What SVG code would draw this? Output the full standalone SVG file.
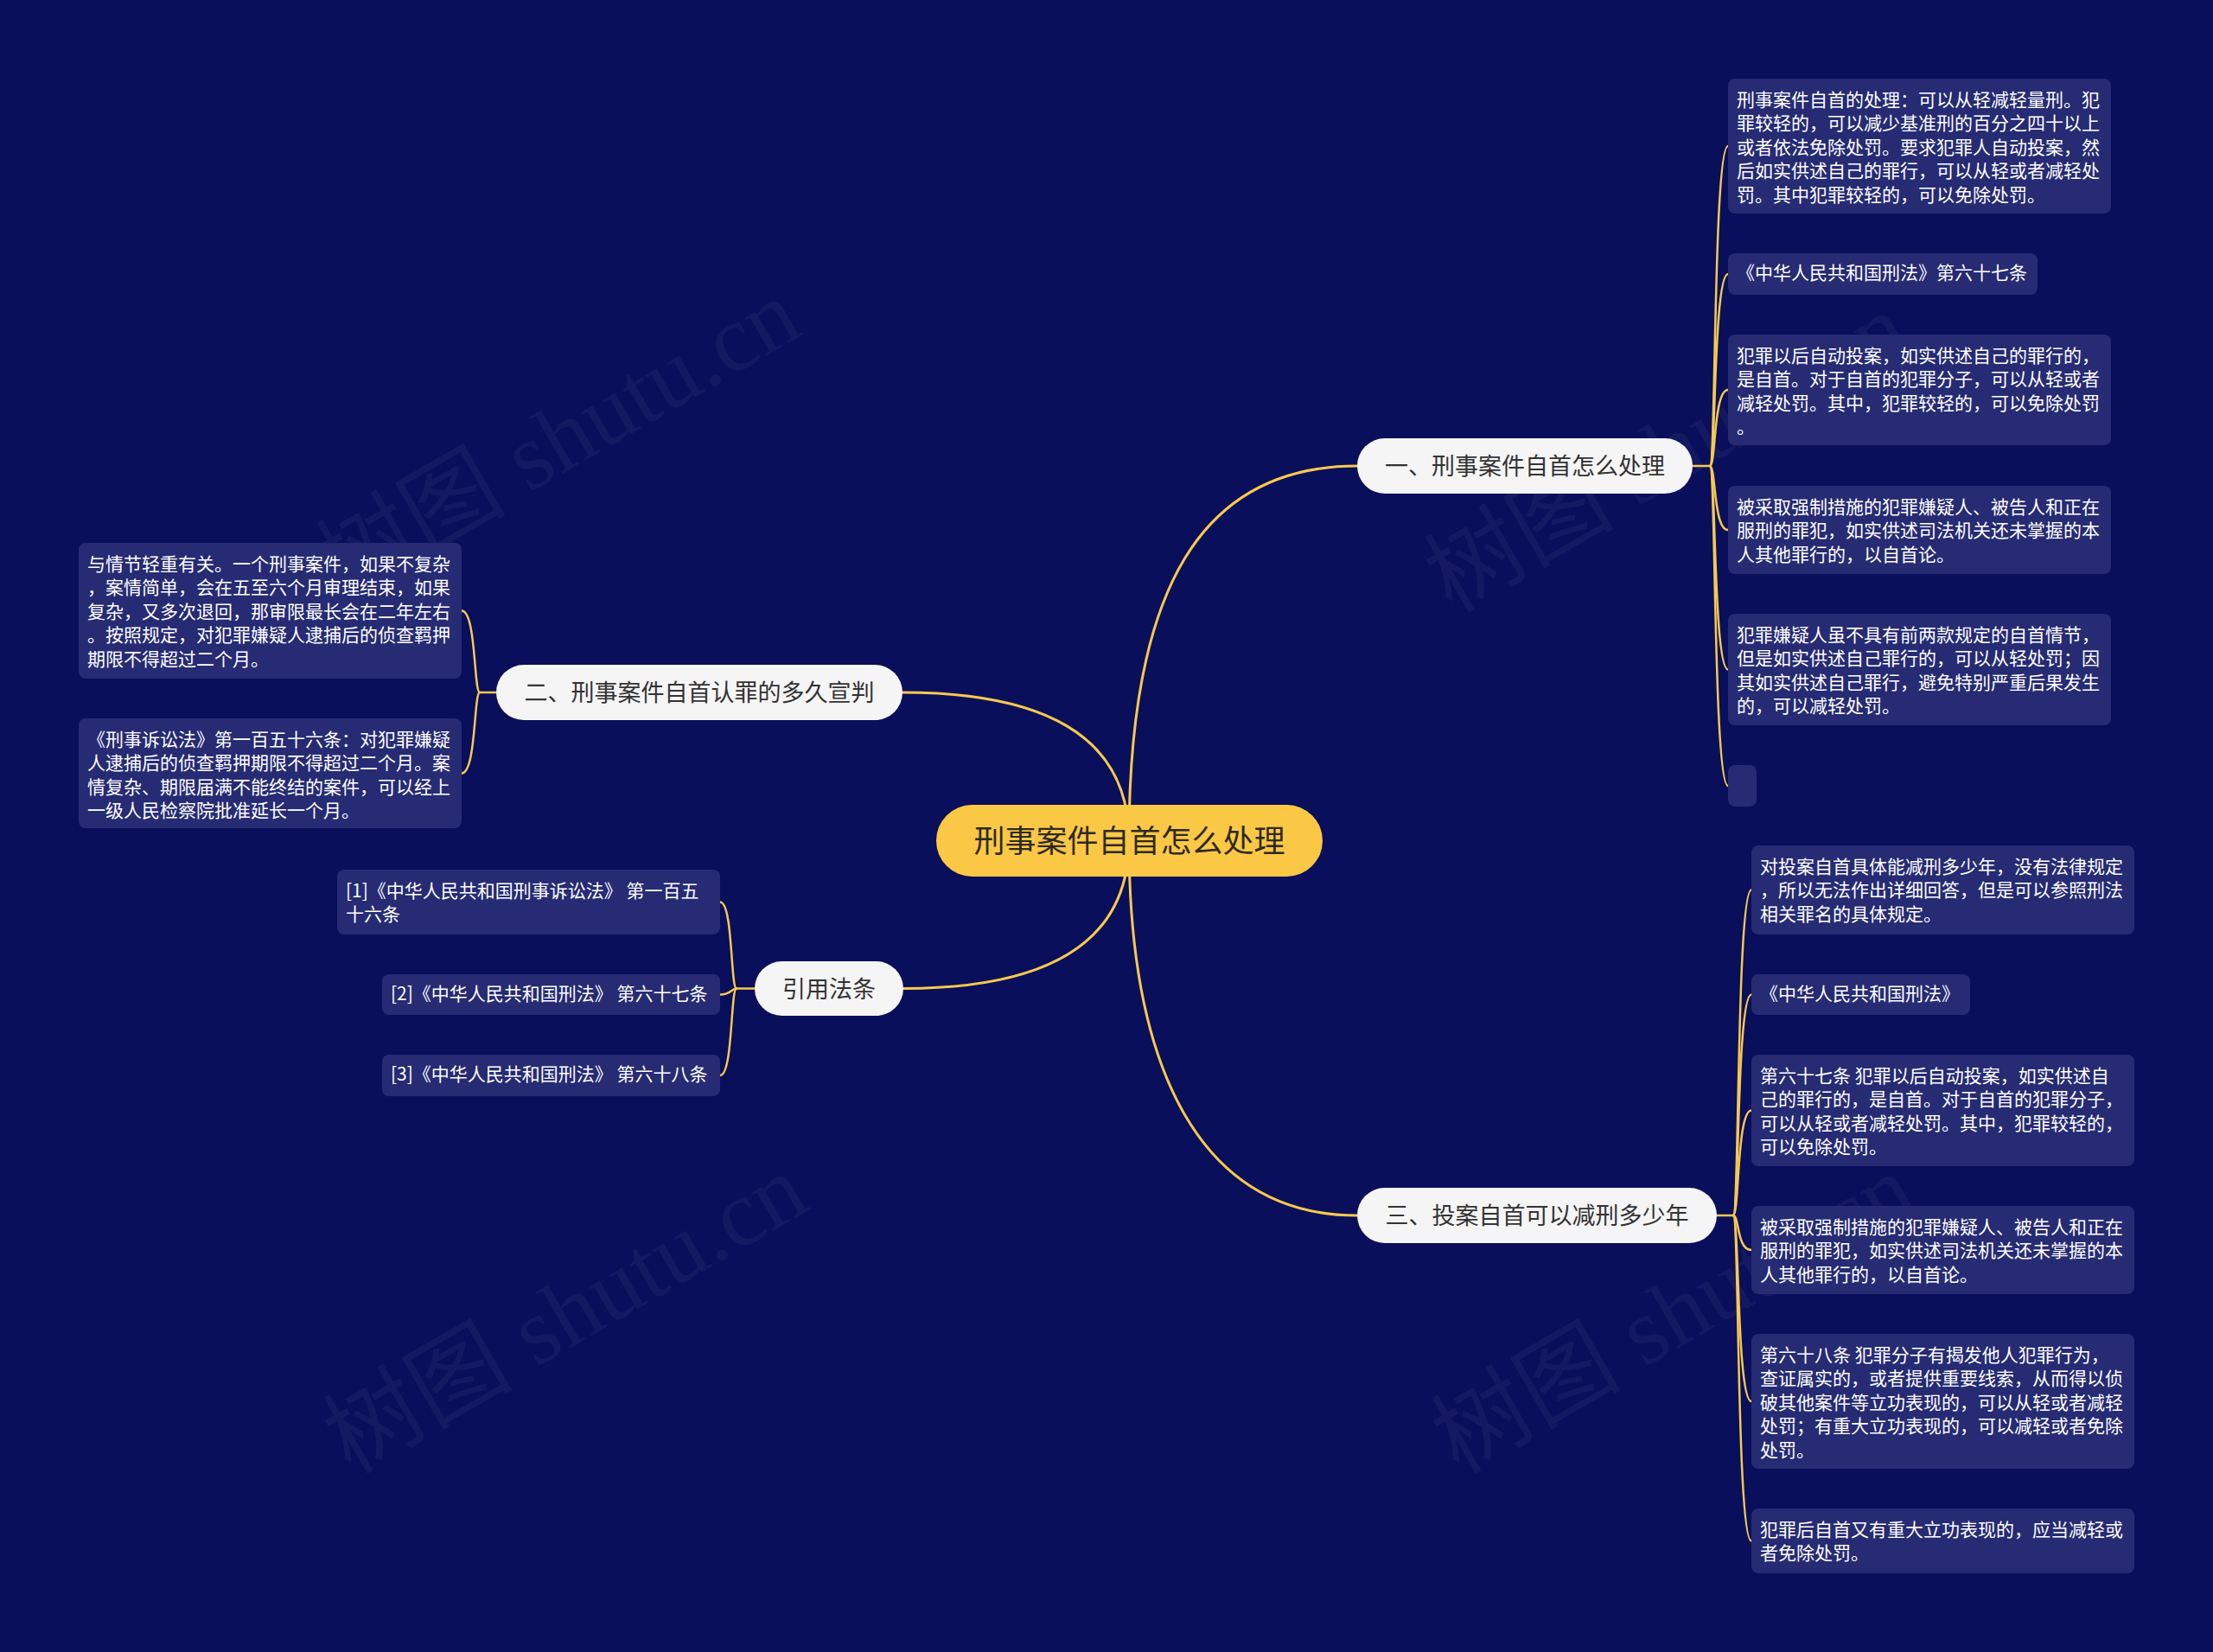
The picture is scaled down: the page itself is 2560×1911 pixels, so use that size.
<svg xmlns="http://www.w3.org/2000/svg" width="2560" height="1911" viewBox="0 0 2560 1911">
<style>
.wm{font-family:"Liberation Serif","Noto Sans CJK SC",serif;font-size:110px;fill:#ffffff;fill-opacity:0.045}
.c{fill:none;stroke:#f7c94f;stroke-width:3;stroke-linecap:round}
.cl{fill:none;stroke:#f7c94f;stroke-width:2.5;stroke-linecap:round}
.leaf{fill:#262b74}
.lt{font-family:"Noto Sans CJK SC","Noto Sans",sans-serif;font-size:21px;fill:#ffffff;transform:translateY(-2px)}
.br{fill:#f5f5f5}
.bt{font-family:"Noto Sans CJK SC","Noto Sans",sans-serif;font-size:27px;fill:#333333;text-anchor:middle}
.rt{font-family:"Noto Sans CJK SC","Noto Sans",sans-serif;font-size:36px;fill:#2f2a1c;text-anchor:middle}
</style>
<rect x="0" y="0" width="2560" height="1911" fill="#0a0f5b"/>
<g id="watermarks">
<text class="wm" x="645" y="545" text-anchor="middle" transform="rotate(-30 645 506)">树图 shutu.cn</text>
<text class="wm" x="653" y="1557" text-anchor="middle" transform="rotate(-30 653 1518)">树图 shutu.cn</text>
<text class="wm" x="1927" y="561" text-anchor="middle" transform="rotate(-30 1927 522)">树图 shutu.cn</text>
<text class="wm" x="1935" y="1557" text-anchor="middle" transform="rotate(-30 1935 1518)">树图 shutu.cn</text>
</g>
<g id="connectors">
<path class="c" d="M1306 972 C1306 680 1390 539 1570 539"/>
<path class="c" d="M1306 972 Q1306 801 1044 801"/>
<path class="c" d="M1306 972 Q1306 1143.5 1045 1143.5"/>
<path class="c" d="M1306 972 C1306 1240 1390 1406 1570 1406"/>
<path class="cl" d="M1958 539 H1978"/>
<path class="cl" d="M1978 539 C1985 539 1982 169 1999 169"/>
<path class="cl" d="M1978 539 C1985 539 1982 317 1999 317"/>
<path class="cl" d="M1978 539 C1985 539 1982 451 1999 451"/>
<path class="cl" d="M1978 539 C1985 539 1982 613 1999 613"/>
<path class="cl" d="M1978 539 C1985 539 1982 774.5 1999 774.5"/>
<path class="cl" d="M1978 539 C1985 539 1982 909 1999 909"/>
<path class="cl" d="M1986 1406 H2005"/>
<path class="cl" d="M2005 1406 C2012 1406 2009 1029.5 2026 1029.5"/>
<path class="cl" d="M2005 1406 C2012 1406 2009 1150.5 2026 1150.5"/>
<path class="cl" d="M2005 1406 C2012 1406 2009 1284.5 2026 1284.5"/>
<path class="cl" d="M2005 1406 C2012 1406 2009 1446 2026 1446"/>
<path class="cl" d="M2005 1406 C2012 1406 2009 1621 2026 1621"/>
<path class="cl" d="M2005 1406 C2012 1406 2009 1782.5 2026 1782.5"/>
<path class="cl" d="M574 801 H555"/>
<path class="cl" d="M555 801 C548 801 551 706.5 534 706.5"/>
<path class="cl" d="M555 801 C548 801 551 894.5 534 894.5"/>
<path class="cl" d="M873 1143.5 H852"/>
<path class="cl" d="M852 1143.5 C845 1143.5 848 1043.5 833 1043.5"/>
<path class="cl" d="M852 1143.5 C846 1143.5 846 1150.5 833 1150.5"/>
<path class="cl" d="M852 1143.5 C845 1143.5 848 1244 833 1244"/>
</g>
<g id="root">
<rect x="1083" y="931" width="447" height="83" rx="41.5" fill="#fbc846"/>
<text class="rt" x="1306.5" y="986">刑事案件自首怎么处理</text>
</g>
<g id="branch1">
<rect class="br" x="1570" y="507" width="388" height="64" rx="32"/>
<text class="bt" x="1764" y="549">一、刑事案件自首怎么处理</text>
</g>
<g id="branch2">
<rect class="br" x="574" y="769" width="470" height="64" rx="32"/>
<text class="bt" x="809" y="811">二、刑事案件自首认罪的多久宣判</text>
</g>
<g id="branch3">
<rect class="br" x="1570" y="1374" width="416" height="64" rx="32"/>
<text class="bt" x="1778" y="1416">三、投案自首可以减刑多少年</text>
</g>
<g id="branch4">
<rect class="br" x="873" y="1112" width="172" height="63" rx="31.5"/>
<text class="bt" x="959" y="1154">引用法条</text>
</g>
<g id="leaf1-1">
<rect class="leaf" x="1999" y="91" width="443" height="156" rx="8"/>
<text class="lt"><tspan x="2009" y="124.5">刑事案件自首的处理：可以从轻减轻量刑。犯</tspan><tspan x="2009" y="152">罪较轻的，可以减少基准刑的百分之四十以上</tspan><tspan x="2009" y="179.5">或者依法免除处罚。要求犯罪人自动投案，然</tspan><tspan x="2009" y="207">后如实供述自己的罪行，可以从轻或者减轻处</tspan><tspan x="2009" y="234.5">罚。其中犯罪较轻的，可以免除处罚。</tspan></text>
</g>
<g id="leaf1-2">
<rect class="leaf" x="1999" y="293" width="358" height="48" rx="8"/>
<text class="lt" x="2009" y="325">《中华人民共和国刑法》第六十七条</text>
</g>
<g id="leaf1-3">
<rect class="leaf" x="1999" y="387" width="443" height="128" rx="8"/>
<text class="lt"><tspan x="2009" y="420.5">犯罪以后自动投案，如实供述自己的罪行的，</tspan><tspan x="2009" y="448">是自首。对于自首的犯罪分子，可以从轻或者</tspan><tspan x="2009" y="475.5">减轻处罚。其中，犯罪较轻的，可以免除处罚</tspan><tspan x="2009" y="503">。</tspan></text>
</g>
<g id="leaf1-4">
<rect class="leaf" x="1999" y="562" width="443" height="102" rx="8"/>
<text class="lt"><tspan x="2009" y="595.5">被采取强制措施的犯罪嫌疑人、被告人和正在</tspan><tspan x="2009" y="623">服刑的罪犯，如实供述司法机关还未掌握的本</tspan><tspan x="2009" y="650.5">人其他罪行的，以自首论。</tspan></text>
</g>
<g id="leaf1-5">
<rect class="leaf" x="1999" y="710" width="443" height="129" rx="8"/>
<text class="lt"><tspan x="2009" y="743.5">犯罪嫌疑人虽不具有前两款规定的自首情节，</tspan><tspan x="2009" y="771">但是如实供述自己罪行的，可以从轻处罚；因</tspan><tspan x="2009" y="798.5">其如实供述自己罪行，避免特别严重后果发生</tspan><tspan x="2009" y="826">的，可以减轻处罚。</tspan></text>
</g>
<g id="leaf1-6">
<rect class="leaf" x="1999" y="885" width="33" height="48" rx="8"/>
</g>
<g id="leaf3-1">
<rect class="leaf" x="2026" y="978" width="443" height="103" rx="8"/>
<text class="lt"><tspan x="2036" y="1011.5">对投案自首具体能减刑多少年，没有法律规定</tspan><tspan x="2036" y="1039">，所以无法作出详细回答，但是可以参照刑法</tspan><tspan x="2036" y="1066.5">相关罪名的具体规定。</tspan></text>
</g>
<g id="leaf3-2">
<rect class="leaf" x="2026" y="1127" width="253" height="47" rx="8"/>
<text class="lt" x="2036" y="1158.5">《中华人民共和国刑法》</text>
</g>
<g id="leaf3-3">
<rect class="leaf" x="2026" y="1220" width="443" height="129" rx="8"/>
<text class="lt"><tspan x="2036" y="1253.5">第六十七条 犯罪以后自动投案，如实供述自</tspan><tspan x="2036" y="1281">己的罪行的，是自首。对于自首的犯罪分子，</tspan><tspan x="2036" y="1308.5">可以从轻或者减轻处罚。其中，犯罪较轻的，</tspan><tspan x="2036" y="1336">可以免除处罚。</tspan></text>
</g>
<g id="leaf3-4">
<rect class="leaf" x="2026" y="1395" width="443" height="102" rx="8"/>
<text class="lt"><tspan x="2036" y="1428.5">被采取强制措施的犯罪嫌疑人、被告人和正在</tspan><tspan x="2036" y="1456">服刑的罪犯，如实供述司法机关还未掌握的本</tspan><tspan x="2036" y="1483.5">人其他罪行的，以自首论。</tspan></text>
</g>
<g id="leaf3-5">
<rect class="leaf" x="2026" y="1543" width="443" height="156" rx="8"/>
<text class="lt"><tspan x="2036" y="1576.5">第六十八条 犯罪分子有揭发他人犯罪行为，</tspan><tspan x="2036" y="1604">查证属实的，或者提供重要线索，从而得以侦</tspan><tspan x="2036" y="1631.5">破其他案件等立功表现的，可以从轻或者减轻</tspan><tspan x="2036" y="1659">处罚；有重大立功表现的，可以减轻或者免除</tspan><tspan x="2036" y="1686.5">处罚。</tspan></text>
</g>
<g id="leaf3-6">
<rect class="leaf" x="2026" y="1745" width="443" height="75" rx="8"/>
<text class="lt"><tspan x="2036" y="1778.5">犯罪后自首又有重大立功表现的，应当减轻或</tspan><tspan x="2036" y="1806">者免除处罚。</tspan></text>
</g>
<g id="leaf2-1">
<rect class="leaf" x="91" y="628" width="443" height="157" rx="8"/>
<text class="lt"><tspan x="101" y="661.5">与情节轻重有关。一个刑事案件，如果不复杂</tspan><tspan x="101" y="689">，案情简单，会在五至六个月审理结束，如果</tspan><tspan x="101" y="716.5">复杂，又多次退回，那审限最长会在二年左右</tspan><tspan x="101" y="744">。按照规定，对犯罪嫌疑人逮捕后的侦查羁押</tspan><tspan x="101" y="771.5">期限不得超过二个月。</tspan></text>
</g>
<g id="leaf2-2">
<rect class="leaf" x="91" y="831" width="443" height="127" rx="8"/>
<text class="lt"><tspan x="101" y="864.5">《刑事诉讼法》第一百五十六条：对犯罪嫌疑</tspan><tspan x="101" y="892">人逮捕后的侦查羁押期限不得超过二个月。案</tspan><tspan x="101" y="919.5">情复杂、期限届满不能终结的案件，可以经上</tspan><tspan x="101" y="947">一级人民检察院批准延长一个月。</tspan></text>
</g>
<g id="cite1">
<rect class="leaf" x="390" y="1006" width="443" height="75" rx="8"/>
<text class="lt"><tspan x="400" y="1039.5">[1]《中华人民共和国刑事诉讼法》 第一百五</tspan><tspan x="400" y="1067">十六条</tspan></text>
</g>
<g id="cite2">
<rect class="leaf" x="442" y="1127" width="391" height="47" rx="8"/>
<text class="lt" x="452" y="1158.5">[2]《中华人民共和国刑法》 第六十七条</text>
</g>
<g id="cite3">
<rect class="leaf" x="442" y="1220" width="391" height="48" rx="8"/>
<text class="lt" x="452" y="1252">[3]《中华人民共和国刑法》 第六十八条</text>
</g>
</svg>
